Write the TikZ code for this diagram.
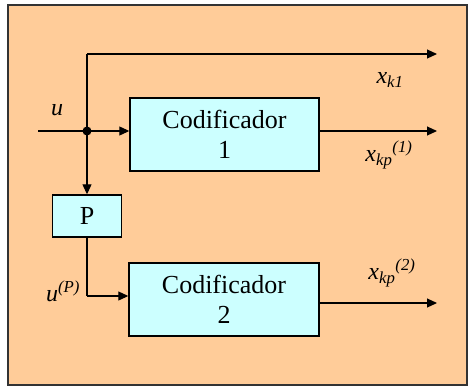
\documentclass[tikz,border=0pt]{standalone}
\usepackage{fontspec}
\setmainfont{Liberation Serif}
\usetikzlibrary{arrows.meta}
\definecolor{peach}{HTML}{FFCC99}
\definecolor{lcyan}{HTML}{CCFFFF}
\definecolor{frame}{HTML}{333333}
\begin{document}
\begin{tikzpicture}[x=1pt,y=-1pt,
  blk/.style={draw=black,line width=1.4pt,fill=lcyan,inner sep=0pt,font=\fontsize{26}{30}\selectfont,align=center},
  wire/.style={line width=1.1pt},
  arr/.style={wire,-{Triangle[length=10pt,width=9pt]}},
  lbl/.style={font=\fontsize{24}{28}\selectfont\itshape,inner sep=0pt}]
\useasboundingbox (0,0) rectangle (468,386);
\draw[draw=frame,line width=1.2pt,fill=peach] (8,5) rectangle (467,385);
\node[blk,minimum width=189pt,minimum height=73pt] (c1) at (224.5,134.5) {Codificador\\1};
\node[blk,minimum width=190pt,minimum height=73pt] (c2) at (224,299.5) {Codificador\\2};
\node[blk,minimum width=69pt,minimum height=42pt] (p) at (87,216) {P};
\coordinate (in) at (38,131);
\coordinate (j) at (87,131);
\coordinate (top) at (87,54);
\coordinate (o1) at (437,54);
\coordinate (o2) at (437,131);
\coordinate (o3) at (437,303);
\coordinate (bend) at (87,296);
\draw[wire] (in) -- (j);
\draw[arr] (j) -- (c1.west |- j);
\draw[wire] (j) -- (top);
\draw[arr] (top) -- (o1);
\draw[arr] (j) -- (p.north);
\draw[arr] (c1.east |- o2) -- (o2);
\draw[wire] (p.south) -- (bend);
\draw[arr] (bend) -- (c2.west |- bend);
\draw[arr] (c2.east |- o3) -- (o3);
\fill (j) circle (4.5pt);
\node[lbl] (lu) at (57,110) {u};
\node[lbl] (lxk1) at (390,80) {x\textsubscript{k1}};
\node[lbl] (lxkp1) at (389,155) {x\textsubscript{kp}\textsuperscript{(1)}};
\node[lbl] (lxkp2) at (392,273) {x\textsubscript{kp}\textsuperscript{(2)}};
\node[lbl] (luP) at (63,291) {u\textsuperscript{(P)}};
\end{tikzpicture}
\end{document}
